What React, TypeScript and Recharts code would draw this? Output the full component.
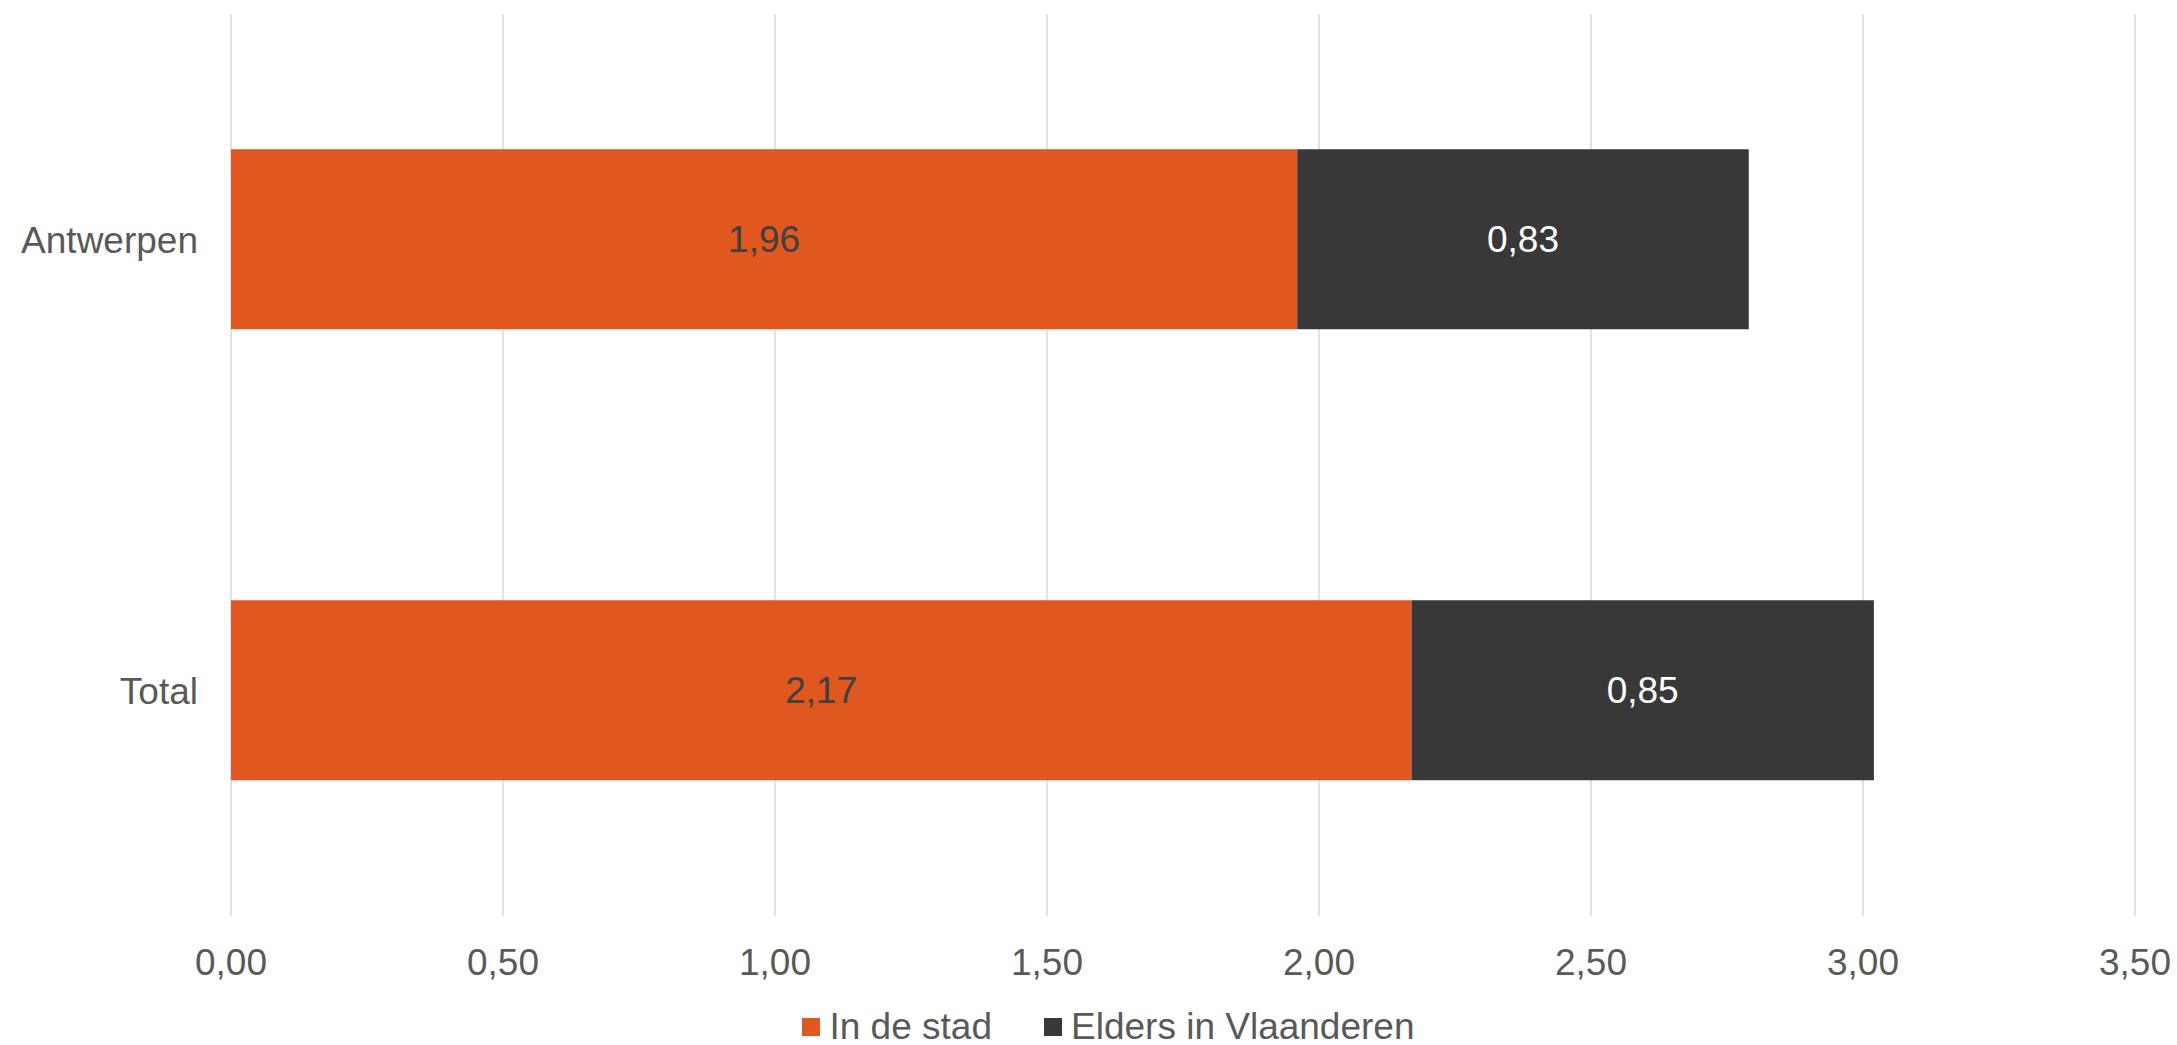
import { Bar, BarChart, CartesianGrid, LabelList, Legend, XAxis, YAxis } from "recharts"

const categories = ["Antwerpen", "Total"]
const inDeStad = [1.96, 2.17]
const eldersInVlaanderen = [0.83, 0.85]
const xTicks = [0, 0.5, 1, 1.5, 2, 2.5, 3, 3.5]

const seriesNames = ["In de stad", "Elders in Vlaanderen"]
const seriesColors = ["#e0571f", "#383838"]

const data = categories.map((name, i) => ({
    name,
    stad: inDeStad[i],
    elders: eldersInVlaanderen[i],
}))

const FONT = "'Liberation Sans', Arial, sans-serif"
const TEXT = "#595959"
const SIZE = 37

const fmt = (v: number) => Number(v).toFixed(2).replace(".", ",")

function LegendBox() {
    return (
        <div
            style={{
                display: "flex",
                justifyContent: "center",
                alignItems: "center",
                height: 36,
                paddingLeft: 40,
                fontFamily: FONT,
                fontSize: SIZE,
                color: TEXT,
                lineHeight: "36px",
            }}
        >
            {seriesNames.map((name, i) => (
                <div key={name} style={{ display: "flex", alignItems: "center", marginLeft: i ? 52 : 0 }}>
                    <span style={{ width: 18, height: 18, background: seriesColors[i], marginRight: 9, display: "inline-block" }} />
                    <span>{name}</span>
                </div>
            ))}
        </div>
    )
}

export default function App() {
    return (
        <div style={{ position: "absolute", left: 0, top: 0, background: "#fff" }}>
            <BarChart
                width={2177}
                height={1045}
                data={data}
                layout="vertical"
                margin={{ top: 14, right: 42, bottom: 0, left: 0 }}
                barCategoryGap="30%"
            >
                <CartesianGrid horizontal={false} stroke="#d9d9d9" strokeWidth={1.5} />
                <XAxis
                    type="number"
                    domain={[0, 3.5]}
                    ticks={xTicks}
                    tickFormatter={fmt}
                    axisLine={false}
                    tickLine={false}
                    tickSize={0}
                    tickMargin={33}
                    height={93}
                    interval={0}
                    tick={{ fill: TEXT, fontSize: SIZE, fontFamily: FONT }}
                />
                <YAxis
                    type="category"
                    dataKey="name"
                    width={231}
                    axisLine={false}
                    tickLine={false}
                    tickSize={0}
                    tickMargin={33}
                    tick={{ fill: TEXT, fontSize: SIZE, fontFamily: FONT }}
                />
                <Legend verticalAlign="bottom" wrapperStyle={{ left: 0, width: 2177 }} content={() => <LegendBox />} />
                <Bar dataKey="stad" name={seriesNames[0]} stackId="a" fill={seriesColors[0]} isAnimationActive={false}>
                    <LabelList dataKey="stad" position="center" formatter={fmt} fill="#404040" fontSize={SIZE} fontFamily={FONT} />
                </Bar>
                <Bar dataKey="elders" name={seriesNames[1]} stackId="a" fill={seriesColors[1]} isAnimationActive={false}>
                    <LabelList dataKey="elders" position="center" formatter={fmt} fill="#ffffff" fontSize={SIZE} fontFamily={FONT} />
                </Bar>
            </BarChart>
        </div>
    )
}
